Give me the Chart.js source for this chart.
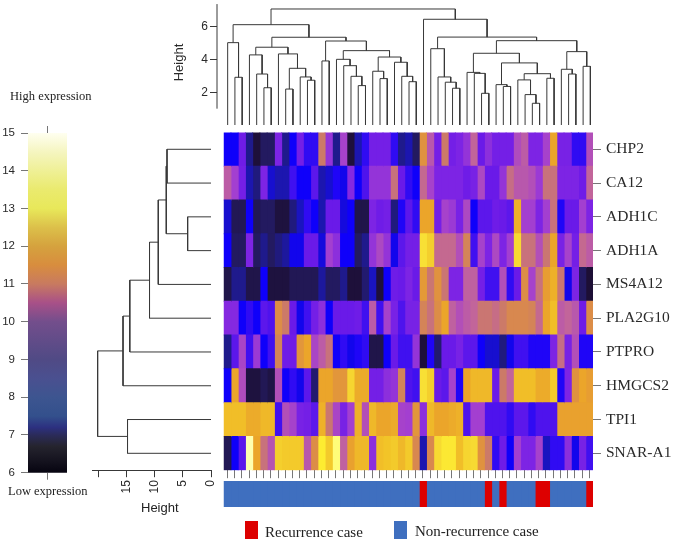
<!DOCTYPE html>
<html>
<head>
<meta charset="utf-8">
<title>Expression heatmap</title>
<script src="https://cdn.jsdelivr.net/npm/chart.js@4"></script>
<style>
    body { margin: 0; background: #fff; }
    canvas, .note { position: absolute; }
    .note { font-family: "Liberation Serif", serif; font-size: 15px; line-height: 18px; color: #222; white-space: nowrap; }
    .small { font-size: 12.5px; }
    .swatch { position: absolute; width: 13px; height: 18px; top: 521px; }
</style>
</head>
<body>
<canvas id="colorbar" width="75" height="415" style="left:0;top:85px"></canvas>
<canvas id="rowTree" width="132" height="400" style="left:92px;top:132px"></canvas>
<canvas id="colTree" width="429" height="126" style="left:165px;top:0"></canvas>
<canvas id="heat" width="454" height="349" style="left:223px;top:132px"></canvas>
<canvas id="cases" width="371" height="26" style="left:223px;top:481px"></canvas>
<div class="note small" style="left:10px;top:87px">High expression</div>
<div class="note small" style="left:8px;top:482px">Low expression</div>
<div class="note" style="left:141px;top:499px;font-family:'Liberation Sans',sans-serif;font-size:13px">Height</div>
<div class="swatch" style="left:245px;background:#dd0000"></div>
<div class="note" style="left:265px;top:523px">Recurrence case</div>
<div class="swatch" style="left:394px;background:#3f6fbf"></div>
<div class="note" style="left:415px;top:522px">Non-recurrence case</div>

<script>
const genes = ['CHP2', 'CA12', 'ADH1C', 'ADH1A', 'MS4A12', 'PLA2G10', 'PTPRO', 'HMGCS2', 'TPI1', 'SNAR-A1'];

const chp2 = [8,8,8.7,7.3,6.5,7,7,9,7.3,8,8.8,8.2,8.2,11,9.3,7.3,9.6,6.5,7.5,8.2,8.8,8.8,8.8,8.2,7.3,7.5,7,
    11.5,10.2,8.8,11,8.8,9,9.3,10.5,8.6,9.2,8.8,8.8,8.8,9.9,10.3,9,9,9.6,12,8.9,8.9,8.2,8.2,10];
const ca12 = [10.3,9.5,8.8,7.5,7.2,9,7.7,7.5,7.5,8.3,8,8,8.5,7.5,7.7,8.1,7.9,9.1,8,8.4,9.3,9.3,9.3,10.8,8.6,8.2,8,
    10.6,9.6,9,9,9,9,8.7,8.9,9.8,8.6,8.6,9.3,10.7,10.2,10.2,10,9.4,10.8,10.8,9,9,9,8.7,10.5];
const adh1c = [7.7,6.9,6.9,8,6.9,7,7,6.6,6.6,7.2,7.6,8.2,8,7.5,8.6,8.6,7.8,8,6.8,6.8,9,8.7,8.8,7.2,8.1,8.5,8.2,
    12,12,8.8,9.6,9.4,8.9,9.8,8,8.5,8.5,8.7,8.6,8.5,12.2,9.5,9.5,9,9.5,10.8,8.1,8.6,8.6,9.5,9];
const adh1a = [8,7,7,9,7,7.3,7,7.2,7.4,7.9,7.9,8.6,8.6,7.8,9.5,9.2,8,8,7,7.3,9.3,9.8,9.3,7.9,8.5,8.8,8.8,
    13,12.7,10.6,10.6,10.6,10,11.2,8.3,9.6,9,9.8,9,9.5,12.9,10.8,10.8,10,10.9,12,8.9,9.6,8.8,10.6,10.3];
const ms4a12 = [6.8,7.3,7.3,6.8,6.8,8,6.6,6.6,6.6,6.9,6.9,6.9,6.9,7.4,7,7,7.3,6.5,6.5,7.1,7.6,6.5,8,8.7,8.6,9,8.6,
    11.7,10.9,11.5,10.9,9,9,10.4,10.4,8.8,8.3,8.3,10,8.2,8.6,11.4,9.6,10.8,11.8,12.2,10.9,7.9,9,7,6.4];
const pla2g10 = [9.1,9.1,8,8.2,8,8.5,8.4,11.4,11,8.6,7.9,8.3,8.8,9.2,8,8.6,8.6,8.6,8.7,8.3,10.3,8.3,9.6,8.9,8.4,8.9,8.9,
    11.2,10.8,11.4,12,10.4,10,10.3,10.5,10.9,10.9,10.7,11,11.3,11.3,11.3,11.2,10.6,12,12.4,10.3,10.5,10.2,8.7,11.4];
const ptpro = [7.3,8.5,9.7,8.3,9.4,8,8.3,11.2,8.7,8.7,11.6,12,9.7,10.3,10.8,8,8.2,7.9,8.1,8.2,6.8,6.8,8,8.6,8.3,8.3,9.3,
    6.5,8.1,7.1,8.6,8.6,8.9,8.5,8.5,8,7.7,7.7,7.2,7.9,8.3,8.3,8.1,8.1,8.1,9,10.7,8.9,10,8.1,8.1];
const hmgcs2 = [8,12,9.9,6.6,6.6,6.9,6.7,10,8,8.2,7.9,8.5,7.1,12,12,11.6,11.6,12.8,12.1,12.1,8.8,8.8,9.2,9.3,11.2,8.4,8.3,
    13,12.7,8.6,8.5,9.6,8.1,12,12.3,12.3,12.3,8.6,11,10.5,12.4,12.4,12.4,12.1,12.1,12.6,8.1,9,11.5,12,11.8];
const tpi1 = [12.4,12.4,12.4,12.1,12.1,12.3,12.3,8.3,10,9.6,8.9,8.8,8.5,12.2,10.9,9.7,8.9,9.5,12.2,10,12.3,12,12,12.1,9.6,9.5,11.6,
    9.2,12.3,12,12,12.1,12.2,8.4,9.5,9.5,8.4,8.4,8.4,8.2,8.5,8.5,8.2,8.4,8.4,8.4,11.9,11.9,11.9,11.9,11.9];
const snarA1 = [6.9,8,8.5,14.3,12,10.8,10.1,12.7,12.6,12.6,12.6,10.2,11.4,13.3,12.6,13.9,10.4,11.9,12.3,12.3,9.2,12.4,12.5,12.6,12.3,12.6,11.3,
    7.5,11.3,12.9,13.2,13.2,12.4,12.8,12.9,11.5,11,8.2,8.7,8,9.5,9,9,9.6,7.6,8.2,8.2,9.2,7.9,8.9,8.3];
const expression = [chp2, ca12, adh1c, adh1a, ms4a12, pla2g10, ptpro, hmgcs2, tpi1, snarA1];

// sample columns that are recurrence cases
const recurrence = [27, 36, 38, 43, 44, 50];

// dendrograms: [left, right, height], a plain number is a leaf index
const colTree = [
    [
        [0, [1, 2, 2.92], 5.04],
        [
            [[3, [4, [5, 6, 2.28], 3.12], 4.29], [7, [[8, 9, 2.2], [10, [11, 12, 2.74], 2.94], 3.47], 4.35], 4.76],
            [[13, 14, 3.92],
                [[15, [16, [17, [18, 19, 2.41], 2.98], 3.63], 4.02],
                 [[20, [21, 22, 2.84], 3.29], [23, [24, [25, 26, 2.65], 2.98], 3.84], 4.16], 4.55], 5.14],
            5.37],
        6.14],
    [27,
        [[28, [29, [30, [31, 32, 2.25], 2.62], 2.94], 4.67],
         [[[33, [34, [35, 36, 1.94], 3.16], 3.22],
           [[37, [38, 39, 2.36], 2.47], [[40, [41, [42, 43, 1.33], 1.86], 2.76], [44, 45, 2.86], 3.14], 3.8], 4.39],
          [[46, [47, 48, 3.12], 3.41], [49, 50, 3.59], 4.49], 5.16],
         5.38],
        6.47],
    7.1];
const rowTree = [[[[[[[0, 1, 7.8], [2, 3, 4.14], 7.93], 4, 9.35], 5, 10.9], 6, 14.4], 7, 15.6], [8, 9, 14.8], 20.1];

const colTreeTicks = [2, 4, 6];
const rowTreeTicks = [0, 5, 10, 15, 20];
const colorbarTicks = [6, 7, 8, 9, 10, 11, 12, 13, 14, 15];

// colour ramps
const heatLevels = [6.4, 6.8, 7, 7.3, 7.6, 8, 8.3, 8.6, 9, 9.5, 10, 10.5, 11, 11.5, 12, 12.5, 13, 13.4, 14, 14.6];
const heatColors = ['#1d0f35', '#20154a', '#231a60', '#1f1a8c', '#1a14c0', '#0f00fa', '#4010f0', '#6a1ae8', '#7d24e4', '#a33fd0',
    '#b24fb8', '#c2659a', '#cc7a68', '#e0923f', '#eba52a', '#f2c428', '#f8e035', '#fff030', '#ffff88', '#ffffd8'];
const barLevels = [6, 6.3, 6.7, 7, 7.2, 7.5, 8, 8.5, 9, 10, 10.5, 11, 11.5, 12, 12.5, 13, 13.5, 14, 14.5, 15];
const barColors = ['#060410', '#14121e', '#25242e', '#2b2b5a', '#2c3080', '#33508c', '#3d5590', '#4a5090', '#504a85', '#734e8c',
    '#a85088', '#c87a60', '#d88d3e', '#d5a23e', '#dcc04a', '#e8e85a', '#eaea6e', '#eff096', '#f5f5c0', '#fffff0'];

const sans = '"Liberation Sans", Arial, sans-serif';
const serif = '"Liberation Serif", serif';
const inkColor = '#2a2a2a';
const treeColor = '#383838';
const tickColor = '#777';

function heatColor(value) {
    let i = heatLevels.findIndex(l => l >= value);
    if (i <= 0) return i === 0 ? heatColors[0] : heatColors[heatColors.length - 1];
    const t = (value - heatLevels[i - 1]) / (heatLevels[i] - heatLevels[i - 1]);
    const rgb = k => parseInt(heatColors[i - 1].substr(k, 2), 16) * (1 - t) + parseInt(heatColors[i].substr(k, 2), 16) * t;
    return `rgb(${rgb(1)}, ${rgb(3)}, ${rgb(5)})`;
}

// walks a tree and collects one U shaped link per merge
function treeLinks(node, links) {
    if (typeof node === 'number') return { pos: node + 0.5, h: 0 };
    const a = treeLinks(node[0], links);
    const b = treeLinks(node[1], links);
    const h = node[2];
    links.push([[a.pos, a.h], [a.pos, h], [b.pos, h], [b.pos, b.h]]);
    return { pos: (a.pos + b.pos) / 2, h };
}

function lineSet(points) {
    return { data: points, showLine: true, pointRadius: 0, borderColor: treeColor, borderWidth: 1, clip: false };
}

// axis sizes are fixed so the plot areas line up across the canvases
function fixSize(s, size) {
    if (s.isHorizontal()) s.height = size; else s.width = size;
    s.paddingTop = s.paddingBottom = s.paddingLeft = s.paddingRight = 0;
}

Chart.defaults.animation = false;
Chart.defaults.responsive = false;
Chart.defaults.plugins.legend.display = false;
Chart.defaults.plugins.tooltip.enabled = false;
Chart.defaults.color = inkColor;

const columns = chp2.map((_, i) => i);

new Chart(document.getElementById('heat'), {
    type: 'bar',
    data: {
        labels: genes,
        datasets: columns.map(c => ({
            data: genes.map(() => 1),
            backgroundColor: expression.map(row => heatColor(row[c])),
            barPercentage: 1,
            categoryPercentage: 1,
            inflateAmount: 0.5
        }))
    },
    options: {
        indexAxis: 'y',
        layout: { padding: { left: 0.7, top: 0.4 } },
        scales: {
            x: {
                type: 'linear', stacked: true, min: 0, max: columns.length,
                border: { display: false },
                grid: { drawOnChartArea: false, tickLength: 8, color: tickColor },
                ticks: { display: false },
                afterBuildTicks: s => { s.ticks = columns.map(c => ({ value: c + 0.5 })); },
                afterFit: s => fixSize(s, 10.8)
            },
            y: {
                type: 'category', stacked: true, position: 'right',
                border: { display: false },
                grid: { offset: false, drawOnChartArea: false, tickLength: 8, color: tickColor },
                ticks: { font: { family: serif, size: 15.5 }, padding: 5 },
                afterFit: s => fixSize(s, 84)
            }
        }
    }
});

new Chart(document.getElementById('cases'), {
    type: 'bar',
    data: {
        labels: ['Case'],
        datasets: columns.map(c => ({
            data: [1],
            backgroundColor: recurrence.includes(c) ? '#dd0000' : '#3f6fbf',
            barPercentage: 1,
            categoryPercentage: 1,
            inflateAmount: 0.5
        }))
    },
    options: {
        indexAxis: 'y',
        layout: { padding: { left: 0.7, right: 1 } },
        scales: {
            x: { type: 'linear', stacked: true, min: 0, max: columns.length, display: false },
            y: { stacked: true, display: false }
        }
    }
});

const colLinks = [];
treeLinks(colTree, colLinks);
const colAxisX = -0.97;
new Chart(document.getElementById('colTree'), {
    type: 'scatter',
    data: {
        datasets: colLinks.map(l => lineSet(l.map(p => ({ x: p[0], y: p[1] }))))
            .concat([lineSet([{ x: colAxisX, y: 1 }, { x: colAxisX, y: 7.4 }])])
    },
    options: {
        layout: { padding: { bottom: 1 } },
        scales: {
            x: { type: 'linear', min: colAxisX, max: columns.length, display: false },
            y: {
                type: 'linear', min: 0, max: 7.65,
                border: { display: false },
                grid: { drawOnChartArea: false, tickLength: 7, color: treeColor },
                ticks: { font: { family: sans, size: 12 }, padding: 2 },
                title: { display: true, text: 'Height', font: { family: sans, size: 13 }, padding: { top: 7, bottom: 4 } },
                afterBuildTicks: s => { s.ticks = colTreeTicks.map(v => ({ value: v })); },
                afterFit: s => fixSize(s, 52)
            }
        }
    }
});

const rowLinks = [];
treeLinks(rowTree, rowLinks);
new Chart(document.getElementById('rowTree'), {
    type: 'scatter',
    data: { datasets: rowLinks.map(l => lineSet(l.map(p => ({ x: p[1], y: p[0] })))) },
    options: {
        layout: { padding: { right: 13, top: 0.4 } },
        scales: {
            x: {
                type: 'linear', reverse: true, min: 0, max: 21.1,
                border: { display: true, color: treeColor },
                grid: { drawOnChartArea: false, tickLength: 7, color: treeColor },
                ticks: {
                    font: { family: sans, size: 12 }, minRotation: 90, maxRotation: 90, padding: 3,
                    callback: v => (v === 20 ? '' : v)
                },
                afterBuildTicks: s => { s.ticks = rowTreeTicks.map(v => ({ value: v })); },
                afterFit: s => fixSize(s, 61.8)
            },
            y: { type: 'linear', reverse: true, min: 0, max: genes.length, display: false }
        }
    }
});

new Chart(document.getElementById('colorbar'), {
    type: 'bar',
    data: {
        labels: [''],
        datasets: [{
            data: [[6, 15]],
            barPercentage: 1,
            categoryPercentage: 1,
            backgroundColor: ctx => {
                const { chart } = ctx;
                if (!chart.chartArea) return barColors[0];
                const y = chart.scales.y;
                const g = chart.ctx.createLinearGradient(0, y.getPixelForValue(6), 0, y.getPixelForValue(15));
                barLevels.forEach((l, i) => g.addColorStop((l - 6) / 9, barColors[i]));
                return g;
            }
        }]
    },
    options: {
        layout: { padding: { right: 8 } },
        scales: {
            x: {
                grid: { offset: false, drawOnChartArea: false, tickLength: 7, color: tickColor },
                border: { display: false },
                ticks: { display: false },
                afterFit: s => fixSize(s, 27.3)
            },
            xTop: {
                type: 'category', position: 'top', labels: [''],
                grid: { offset: false, drawOnChartArea: false, tickLength: 7, color: tickColor },
                border: { display: false },
                ticks: { display: false },
                afterFit: s => fixSize(s, 48)
            },
            y: {
                min: 6, max: 15,
                border: { display: false },
                grid: { drawOnChartArea: false, tickLength: 7, color: tickColor },
                ticks: { font: { family: sans, size: 11.5 }, padding: 6 },
                afterBuildTicks: s => { s.ticks = colorbarTicks.map(v => ({ value: v })); },
                afterFit: s => fixSize(s, 28)
            }
        }
    }
});
</script>
</body>
</html>
